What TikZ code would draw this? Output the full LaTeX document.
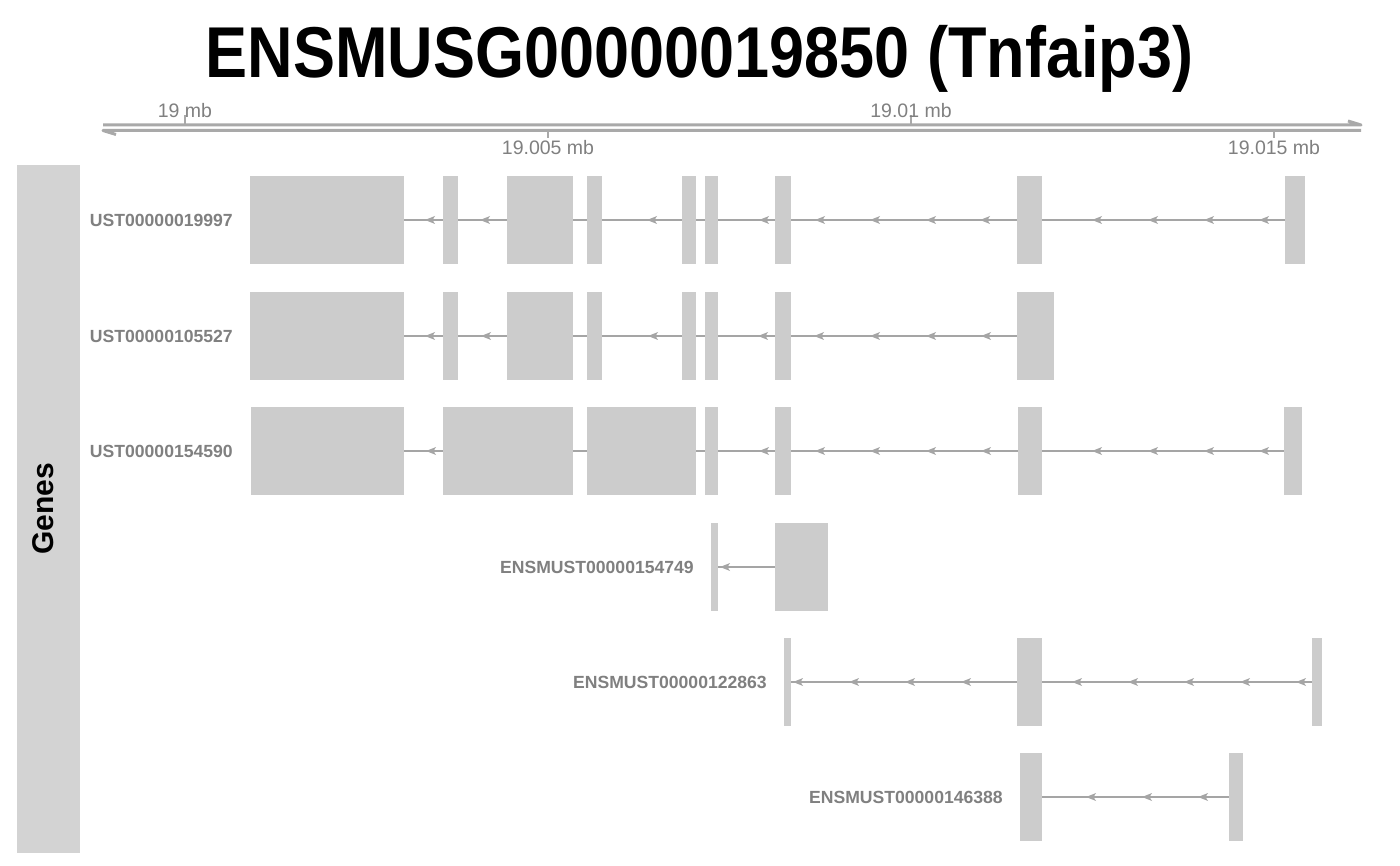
\documentclass[tikz,border=0pt]{standalone}
\usepackage{fontspec}
\usepackage{graphicx}
\setmainfont{Liberation Sans}
\definecolor{exonc}{RGB}{204,204,204}
\definecolor{intronc}{RGB}{165,165,165}
\definecolor{labc}{RGB}{128,128,128}
\definecolor{axisc}{RGB}{169,169,169}
\definecolor{panelc}{RGB}{211,211,211}
\begin{document}
\begin{tikzpicture}[x=1pt,y=-1pt,
  exon/.style={fill=exonc,draw=none,inner sep=0pt,outer sep=0pt,minimum height=88pt},
  intron/.style={draw=intronc,line width=2pt},
  chev/.style={fill=intronc,draw=none},
  lab/.style={text=labc,font=\fontsize{17.6}{18}\selectfont\bfseries,inner sep=0pt,anchor=east},
  axisline/.style={draw=axisc,line width=3pt,line join=round,line cap=butt},
  tick/.style={draw=axisc,line width=2.5pt},
  ticklab/.style={text=labc,font=\fontsize{19.5}{20}\selectfont,inner sep=0pt}]
\useasboundingbox (0,0) rectangle (1400,866);
\fill[white] (0,0) rectangle (1400,866);
% title
\node[anchor=base,inner sep=0pt] (title) at (699.5,78)
  {\scalebox{0.875}[1]{\fontsize{72}{72}\selectfont\bfseries ENSMUSG00000019850 (Tnfaip3)}};
% axis
\coordinate (aL1) at (103,125); \coordinate (aR1) at (1361,125);
\coordinate (aL2) at (103,130.5); \coordinate (aR2) at (1361,130.5);
\draw[axisline] (aL1) -- (aR1) -- (1348,121);
\draw[axisline] (aR2) -- (aL2) -- (116,134.5);
\draw[tick] (185,124) -- (185,115);
\draw[tick] (911,124) -- (911,115);
\draw[tick] (548,131) -- (548,138);
\draw[tick] (1274,131) -- (1274,138);
\node[ticklab] (t1) at (185,110.5) {19 mb};
\node[ticklab] (t2) at (911,110.5) {19.01 mb};
\node[ticklab] (t3) at (548,148) {19.005 mb};
\node[ticklab] (t4) at (1274,148) {19.015 mb};
% panel
\fill[panelc] (17,165) rectangle (80,853);
\node[rotate=90,font=\fontsize{30}{30}\selectfont\bfseries,inner sep=0pt] (genes) at (43,509) {Genes};
% transcripts
\foreach \r/\y/\exons/\chevs/\lab/\lx in {
  1/220/{250/404,443/458,507/573,587/602,682/696,705/718,775/791,1017/1042,1285/1305}/{430,485,652,764,820,875,931,985,1097,1153,1209,1264}/UST00000019997/233,
  2/336/{250/404,443/458,507/573,587/602,682/696,705/718,775/791,1017/1054}/{430,486,653,763,819,875,931,986}/UST00000105527/233,
  3/451/{251/404,443/573,587/696,705/718,775/791,1018/1042,1284/1302}/{431,764,820,875,931,986,1097,1153,1209,1264}/UST00000154590/233,
  4/567/{711/718,775/828}/{725}/ENSMUST00000154749/694,
  5/682/{784/791,1017/1042,1312/1322}/{798,854,910,966,1077,1133,1189,1245,1301}/ENSMUST00000122863/767,
  6/797/{1020/1042,1229/1243}/{1091,1147,1203}/ENSMUST00000146388/1003}{
  \foreach [count=\i] \a/\b in \exons {
    \node[exon,minimum width={(\b-\a)*1pt},anchor=west] (r\r e\i) at (\a,\y) {};
    \ifnum\i>1
      \pgfmathtruncatemacro\j{\i-1}
      \draw[intron] (r\r e\j.east) -- (r\r e\i.west);
    \fi
  }
  \foreach \c in \chevs {
    \fill[chev] (\c-5,\y) -- (\c+5,\y-4) -- (\c+2.5,\y) -- (\c+5,\y+4) -- cycle;
  }
  \node[lab] (l\r) at (\lx,\y) {\lab};
}
\end{tikzpicture}
\end{document}
